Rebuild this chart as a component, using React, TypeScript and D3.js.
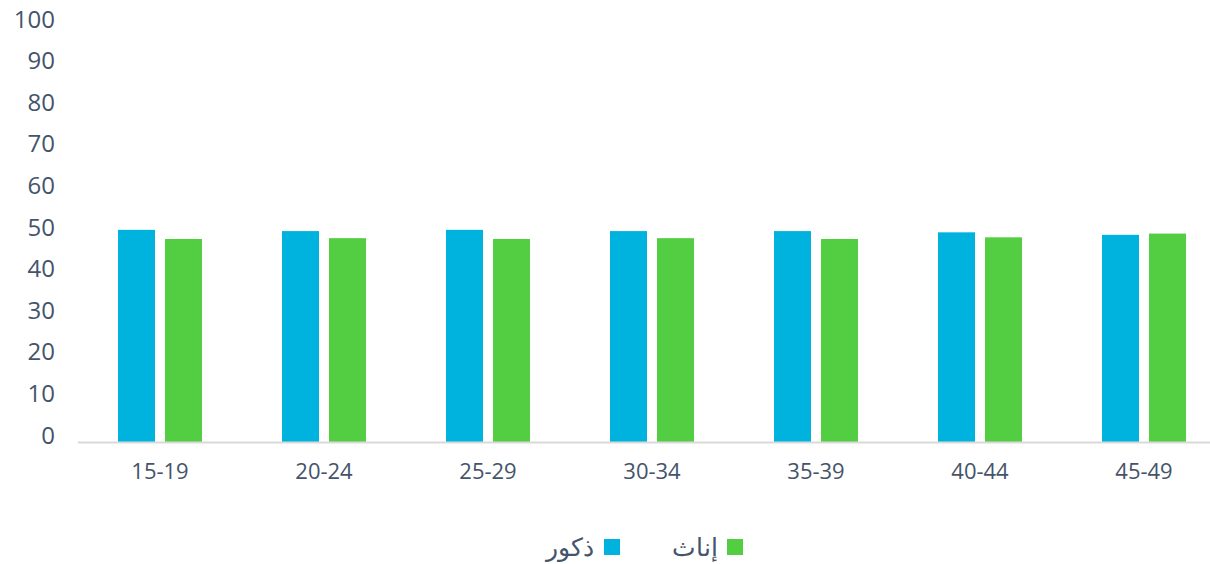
import React from "react";
import * as d3 from "d3";

const categories = ["15-19", "20-24", "25-29", "30-34", "35-39", "40-44", "45-49"];
const males = [51.0, 50.7, 51.0, 50.7, 50.7, 50.4, 49.8];
const females = [48.8, 49.0, 48.8, 49.0, 48.8, 49.2, 50.1];
const yTicks = [0, 10, 20, 30, 40, 50, 60, 70, 80, 90, 100];
const seriesNames = ["ذكور", "إناث"];
const colors = ["#00B2DE", "#53CD41"];

export default function App() {
  const W = 1210, H = 564;
  const x = d3.scaleBand<string>().domain(categories).range([78, 1226]);
  const y = d3.scaleLinear().domain([0, 100]).range([442, 26]);
  const step = x.step();
  const barW = 37;
  const gap = 10;
  const font = "'Open Sans', 'Noto Sans', sans-serif";
  const textColor = "#44546A";
  return (
    <svg width={W} height={H} style={{ position: "absolute", left: 0, top: 0 }} fontFamily={font}>
      <rect width={W} height={H} fill="#fff" />
      {yTicks.map((t) => (
        <text key={t} x={55} y={y(t) - 8} textAnchor="end" dominantBaseline="central" fontSize={24} fill={textColor}>
          {t}
        </text>
      ))}
      {categories.map((c, i) => {
        const cx = (x(c) as number) + step / 2;
        return (
          <g key={c}>
            <rect x={cx - gap / 2 - barW} y={y(males[i])} width={barW} height={y(0) - y(males[i])} fill={colors[0]} />
            <rect x={cx + gap / 2} y={y(females[i])} width={barW} height={y(0) - y(females[i])} fill={colors[1]} />
            <text x={cx} y={470} textAnchor="middle" dominantBaseline="central" fontSize={22} fill={textColor}>
              {c}
            </text>
          </g>
        );
      })}
      <line x1={78} x2={1226} y1={442.5} y2={442.5} stroke="#D9D9D9" strokeWidth={2} />
      <g>
        <rect x={727} y={539} width={16} height={16} fill={colors[1]} />
        <text x={718} y={546} textAnchor="end" dominantBaseline="central" fontSize={25} fill={textColor}>
          {seriesNames[1]}
        </text>
        <rect x={604} y={539} width={16} height={16} fill={colors[0]} />
        <text x={594} y={546} textAnchor="end" dominantBaseline="central" fontSize={25} fill={textColor}>
          {seriesNames[0]}
        </text>
      </g>
    </svg>
  );
}
